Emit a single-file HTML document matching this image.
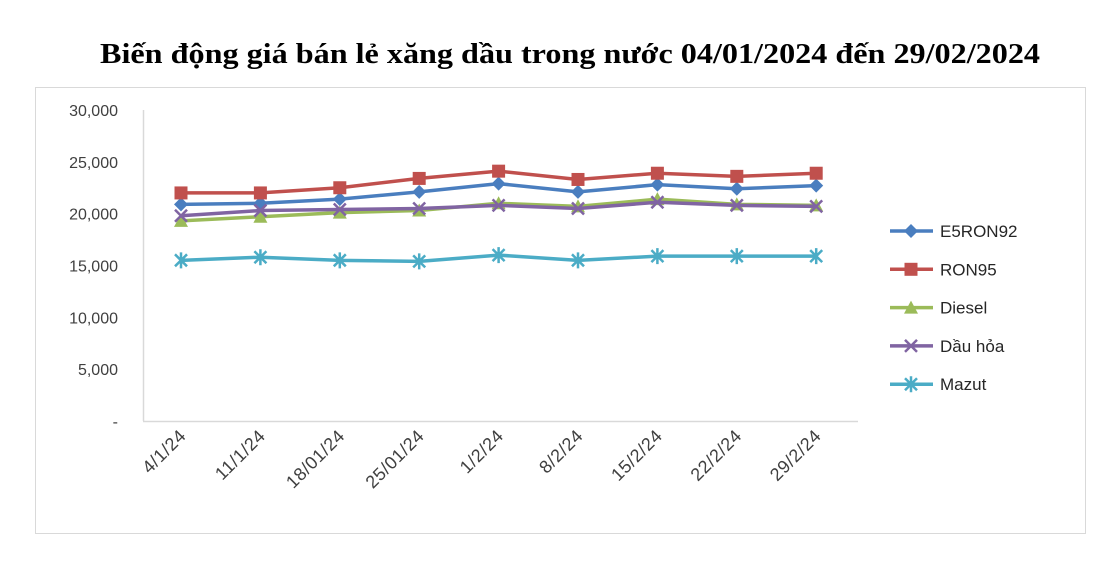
<!DOCTYPE html>
<html><head><meta charset="utf-8"><style>
body{margin:0;background:#fff;width:1105px;height:579px;overflow:hidden}
svg{position:absolute;left:0;top:0}
</style></head><body>
<svg id="s" width="1105" height="579" xmlns="http://www.w3.org/2000/svg">
<text x="100" y="63" textLength="940" lengthAdjust="spacingAndGlyphs" font-family="Liberation Serif, serif" font-weight="bold" font-size="29">Biến động giá bán lẻ xăng dầu trong nước 04/01/2024 đến 29/02/2024</text>
<rect x="35.5" y="87.5" width="1050" height="446" fill="none" stroke="#d9d9d9"/>
<line x1="143.5" y1="110" x2="143.5" y2="421" stroke="#d9d9d9" stroke-width="1.5"/>
<line x1="143" y1="421.5" x2="858" y2="421.5" stroke="#d9d9d9" stroke-width="1.5"/>
<g id="g" font-family="Liberation Sans, sans-serif" font-size="16" fill="#404040"></g>
</svg>
<script>
const g=document.getElementById('g');const NS='http://www.w3.org/2000/svg';
function el(t,a,txt){const e=document.createElementNS(NS,t);for(const k in a)e.setAttribute(k,a[k]);if(txt!=null)e.textContent=txt;g.appendChild(e);return e}
const Y=v=>421-v/30000*311;
['-','5,000','10,000','15,000','20,000','25,000','30,000'].forEach((l,i)=>el('text',{x:118,y:Y(i*5000)+6,'text-anchor':'end'},l));
const xs=[],labs=['4/1/24','11/1/24','18/01/24','25/01/24','1/2/24','8/2/24','15/2/24','22/2/24','29/2/24'];
for(let i=0;i<9;i++){xs.push(181+i*79.4);el('text',{x:0,y:0,'text-anchor':'end','font-size':18,'letter-spacing':'0.5',transform:`translate(${187+i*79.4},437) rotate(-45)`},labs[i]);}
const S=[
['E5RON92','#4a7ebf','d',[20900,21000,21400,22100,22900,22100,22800,22400,22700]],
['RON95','#c0504d','s',[22000,22000,22500,23400,24100,23300,23900,23600,23900]],
['Diesel','#9bbb59','t',[19300,19700,20100,20300,21000,20700,21400,20900,20800]],
['Dầu hỏa','#8064a2','x',[19800,20300,20400,20500,20800,20500,21100,20800,20700]],
['Mazut','#4bacc6','a',[15500,15800,15500,15400,16000,15500,15900,15900,15900]]];
function mk(t,x,y,c){
 if(t=='d')el('polygon',{points:`${x},${y-7} ${x+7},${y} ${x},${y+7} ${x-7},${y}`,fill:c});
 if(t=='s')el('rect',{x:x-6.5,y:y-6.5,width:13,height:13,fill:c});
 if(t=='t')el('polygon',{points:`${x},${y-7} ${x+7},${y+6} ${x-7},${y+6}`,fill:c});
 if(t=='x'){el('path',{d:`M${x-6} ${y-6}L${x+6} ${y+6}M${x+6} ${y-6}L${x-6} ${y+6}`,stroke:c,'stroke-width':2.5});}
 if(t=='a'){el('path',{d:`M${x-6} ${y-6}L${x+6} ${y+6}M${x+6} ${y-6}L${x-6} ${y+6}M${x} ${y-8}L${x} ${y+8}`,stroke:c,'stroke-width':2.5});}
}
S.forEach((s,k)=>{
 el('polyline',{points:s[3].map((v,i)=>xs[i]+','+Y(v)).join(' '),fill:'none',stroke:s[1],'stroke-width':3.5,'stroke-linejoin':'round'});
 s[3].forEach((v,i)=>mk(s[2],xs[i],Y(v),s[1]));
 const ly=231+k*38.3;
 el('line',{x1:890,y1:ly,x2:933,y2:ly,stroke:s[1],'stroke-width':3.5});
 mk(s[2],911,ly,s[1]);
 el('text',{x:940,y:ly+6,'font-size':17,fill:'#262626'},s[0]);
});
</script>
</body></html>
